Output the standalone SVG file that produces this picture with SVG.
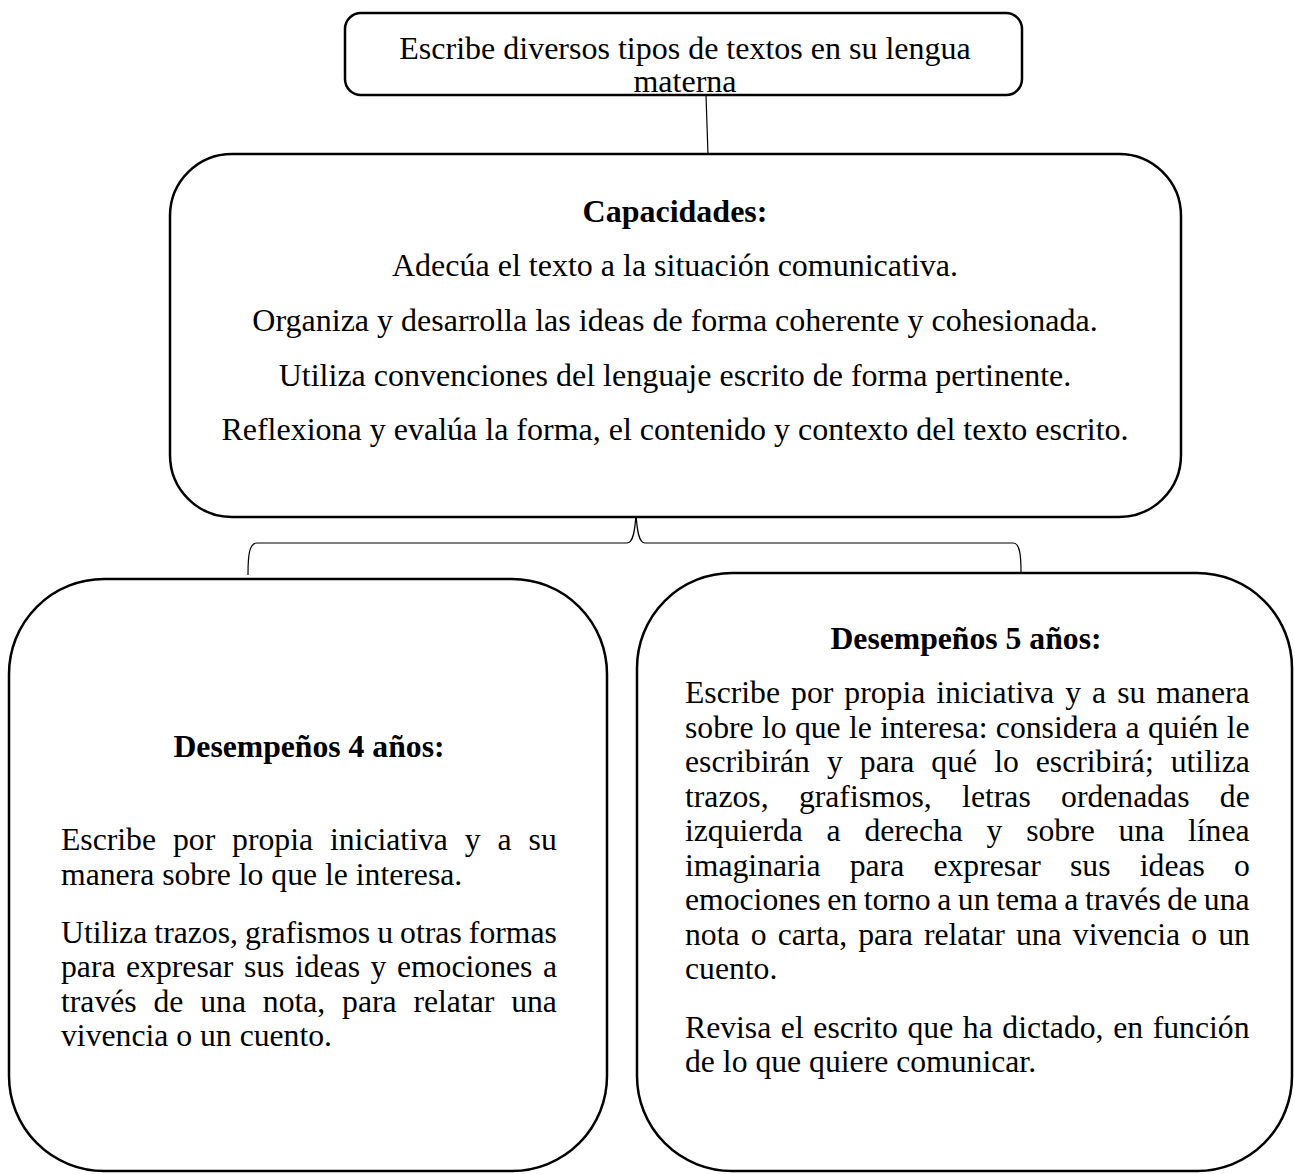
<svg xmlns="http://www.w3.org/2000/svg" width="1295" height="1174" viewBox="0 0 1295 1174">
<style>
.box{fill:#fff;stroke:#000;stroke-width:2.5}
.conn{fill:none;stroke:#000;stroke-width:1.2}
.t{font-family:"Liberation Serif","Times New Roman",serif;font-size:31.7px;fill:#000}
.c{text-anchor:middle}
.b{font-weight:bold}
.big{font-size:32px}
</style>
<rect width="1295" height="1174" fill="#fff"/>
<g id="connectors">
<path class="conn" d="M706,95 L708,155"/>
<path class="conn" d="M248,575 C248,556 249,543 257,543 L627,543 C633,543 635,532 636,513 C637,532 639,543 645,543 L1013,543 C1020,543 1021,556 1021,572"/>
</g>
<g id="top">
<rect class="box" x="345" y="13" width="677" height="82" rx="16"/>
<text class="t big c" x="685" y="59">Escribe diversos tipos de textos en su lengua</text>
<text class="t big c" x="685" y="91.5">materna</text>
</g>
<g id="capacidades">
<rect class="box" x="170" y="154" width="1011" height="363" rx="62"/>
<text class="t big c b" x="675" y="222">Capacidades:</text>
<text class="t big c" x="675" y="276">Adecúa el texto a la situación comunicativa.</text>
<text class="t big c" x="675" y="331">Organiza y desarrolla las ideas de forma coherente y cohesionada.</text>
<text class="t big c" x="675" y="386">Utiliza convenciones del lenguaje escrito de forma pertinente.</text>
<text class="t big c" x="675" y="440">Reflexiona y evalúa la forma, el contenido y contexto del texto escrito.</text>
</g>
<g id="desempenos4">
<rect class="box" x="9" y="579" width="598" height="592" rx="95"/>
<text class="t c b" x="309" y="757">Desempeños 4 años:</text>
<text class="t" x="61" y="850" word-spacing="9">Escribe por propia iniciativa y a su</text>
<text class="t" x="61" y="885">manera sobre lo que le interesa.</text>
<text class="t" x="61" y="943" word-spacing="-0.8">Utiliza trazos, grafismos u otras formas</text>
<text class="t" x="61" y="977" word-spacing="2.6">para expresar sus ideas y emociones a</text>
<text class="t" x="61" y="1012" word-spacing="8.9">través de una nota, para relatar una</text>
<text class="t" x="61" y="1046">vivencia o un cuento.</text>
</g>
<g id="desempenos5">
<rect class="box" x="637" y="573" width="655" height="598" rx="95"/>
<text class="t c b" x="966" y="649">Desempeños 5 años:</text>
<text class="t" x="685" y="703" word-spacing="3.1">Escribe por propia iniciativa y a su manera</text>
<text class="t" x="685" y="738" word-spacing="0.4">sobre lo que le interesa: considera a quién le</text>
<text class="t" x="685" y="772" word-spacing="9.1">escribirán y para qué lo escribirá; utiliza</text>
<text class="t" x="685" y="807" word-spacing="22.4">trazos, grafismos, letras ordenadas de</text>
<text class="t" x="685" y="841" word-spacing="15.8">izquierda a derecha y sobre una línea</text>
<text class="t" x="685" y="876" word-spacing="21.3">imaginaria para expresar sus ideas o</text>
<text class="t" x="685" y="910" word-spacing="-1.3">emociones en torno a un tema a través de una</text>
<text class="t" x="685" y="945" word-spacing="3.2">nota o carta, para relatar una vivencia o un</text>
<text class="t" x="685" y="979">cuento.</text>
<text class="t" x="685" y="1038" word-spacing="1.7">Revisa el escrito que ha dictado, en función</text>
<text class="t" x="685" y="1072">de lo que quiere comunicar.</text>
</g>
</svg>
